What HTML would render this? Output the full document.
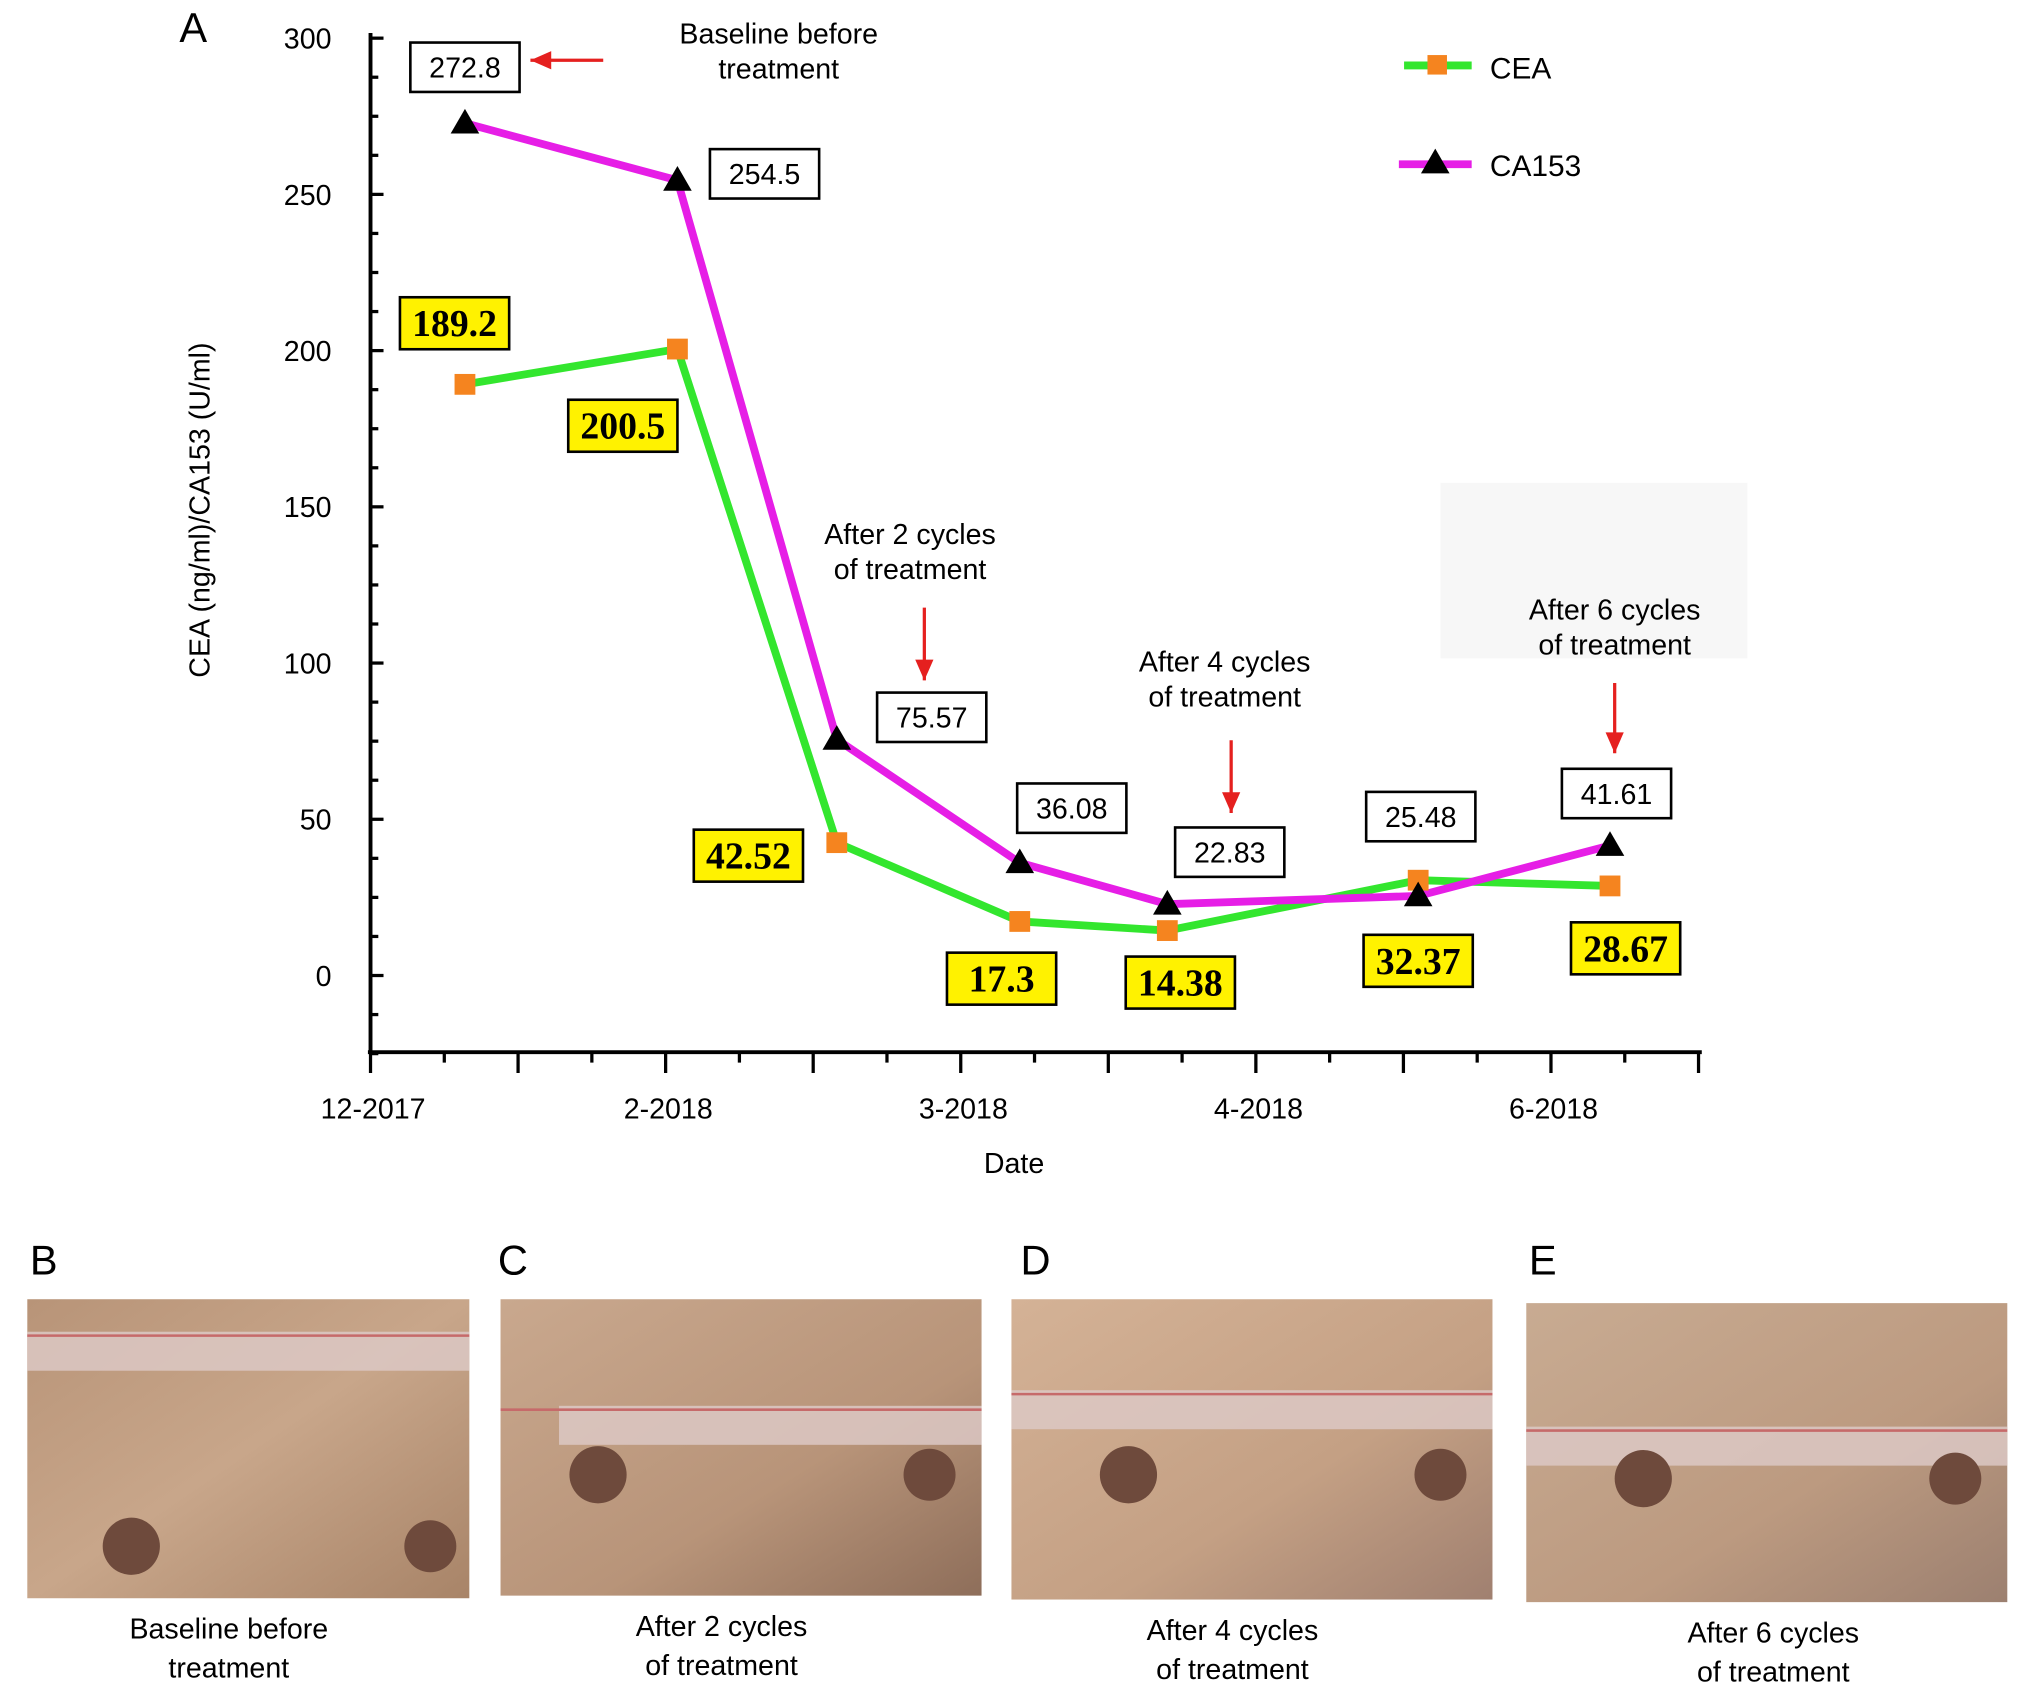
<!DOCTYPE html>
<html><head><meta charset="utf-8"><style>
html,body{margin:0;padding:0;background:#fff}
svg{display:block}
text{font-family:"Liberation Sans",sans-serif}
</style></head><body>
<svg id="chart" width="2032" height="1691" viewBox="0 0 1563 1300" xmlns="http://www.w3.org/2000/svg">
<defs>
<linearGradient id="skin1" x1="0" y1="0" x2="1" y2="1"><stop offset="0" stop-color="#b89478"/><stop offset="0.5" stop-color="#c8a68a"/><stop offset="1" stop-color="#a88468"/></linearGradient>
<linearGradient id="skin2" x1="0" y1="0" x2="1" y2="1"><stop offset="0" stop-color="#c9a88e"/><stop offset="0.6" stop-color="#b89479"/><stop offset="1" stop-color="#8e6e5a"/></linearGradient>
<linearGradient id="skin3" x1="0" y1="0" x2="1" y2="1"><stop offset="0" stop-color="#d4b296"/><stop offset="0.6" stop-color="#c4a084"/><stop offset="1" stop-color="#a08070"/></linearGradient>
<linearGradient id="skin4" x1="0" y1="0" x2="1" y2="1"><stop offset="0" stop-color="#c8ab92"/><stop offset="0.6" stop-color="#bc9a80"/><stop offset="1" stop-color="#9c8070"/></linearGradient>
</defs>
<g id="plot" transform="translate(-2,-3)"></g>
<g id="photos" transform="translate(-1,-3)"></g>
</svg>
<script>
const NS="http://www.w3.org/2000/svg";
const categories=["12-2017","2-2018","3-2018","4-2018","6-2018"];
const yTicks=[0,50,100,150,200,250,300];
const pointTimes=[0.32,1.04,1.58,2.2,2.7,3.55,4.2];
const ceaValues=[189.2,200.5,42.52,17.3,14.38,30.5,28.67];
const ceaLabels=["189.2","200.5","42.52","17.3","14.38","32.37","28.67"];
const ca153Values=[272.8,254.5,75.57,36.08,22.83,25.48,41.61];
const ca153Labels=["272.8","254.5","75.57","36.08","22.83","25.48","41.61"];

const plot=document.getElementById('plot');
const X0=287,XW=227,Y0=753,YK=(753-32)/300;
const sx=t=>X0+t*XW, sy=v=>Y0-v*YK;
function mk(tag,attrs,parent,txt){const e=document.createElementNS(NS,tag);for(const k in attrs)e.setAttribute(k,attrs[k]);if(txt!==undefined)e.textContent=txt;(parent||plot).appendChild(e);return e;}

let ya=mk('line',{x1:X0,y1:28,x2:X0,y2:812,stroke:'#000','stroke-width':3});


let xa=mk('line',{x1:X0-2,y1:812,x2:1311,y2:812,stroke:'#000','stroke-width':3});


for(let v=-25;v<=300;v+=12.5){
  const major=(v%50===0);
  mk('line',{x1:X0,y1:sy(v),x2:X0+(major?10:6),y2:sy(v),stroke:'#000','stroke-width':2.5});
}
yTicks.forEach(v=>{
  const t=mk('text',{x:257,y:sy(v)+8,'text-anchor':'end','font-size':22},plot,String(v));
  
  
});
for(let i=0;i<=18;i++){
  const x=X0+i*XW/4;
  const h=i%2===0?16:8;
  mk('line',{x1:x,y1:812,x2:x,y2:812+h,stroke:'#000','stroke-width':2.5});
}
categories.forEach((c,i)=>{
  const t=mk('text',{x:sx(i)+2,y:863,'text-anchor':'middle','font-size':22},plot,c);
  
  
});
let xt=mk('text',{x:782,y:905,'text-anchor':'middle','font-size':22},plot,'Date');


let yt=mk('text',{x:0,y:0,'text-anchor':'middle','font-size':22,transform:'translate(163,395) rotate(-90)'},plot,'CEA (ng/ml)/CA153 (U/ml)');


let pa=mk('text',{x:140,y:35,'font-size':32},plot,'A');



const pts=(vals)=>vals.map((v,i)=>sx(pointTimes[i])+','+sy(v)).join(' ');
let l1=mk('polyline',{points:pts(ceaValues),fill:'none',stroke:'#33e62e','stroke-width':6,'stroke-linejoin':'round'});


let l2=mk('polyline',{points:pts(ca153Values),fill:'none',stroke:'#e61ee6','stroke-width':6,'stroke-linejoin':'round'});


ceaValues.forEach((v,i)=>{
  const r=mk('rect',{x:sx(pointTimes[i])-8,y:sy(v)-8,width:16,height:16,fill:'#f5841f'});
  
  
});
ca153Values.forEach((v,i)=>{
  const x=sx(pointTimes[i]),y=sy(v);
  const p=mk('polygon',{points:`${x},${y-11} ${x-11},${y+8} ${x+11},${y+8}`,fill:'#000'});
  
  
});
const caOff=[[0,-43],[67,-5],[73,-17],[40,-42],[48,-40],[2,-61],[5,-40]];
const ceOff=[[-8,-47],[-42,59],[-68,10],[-14,44],[10,40],[0,62],[12,48]];
ca153Values.forEach((v,i)=>{
  const cx=sx(pointTimes[i])+caOff[i][0],cy=sy(v)+caOff[i][1];
  const g=mk('g',{});
  
  
  mk('rect',{x:cx-42,y:cy-19,width:84,height:38,fill:'#fff',stroke:'#000','stroke-width':2},g);
  mk('text',{x:cx,y:cy+8,'text-anchor':'middle','font-size':22},g,ca153Labels[i]);
});
ceaValues.forEach((v,i)=>{
  const cx=sx(pointTimes[i])+ceOff[i][0],cy=sy(v)+ceOff[i][1];
  const g=mk('g',{});
  
  
  mk('rect',{x:cx-42,y:cy-20,width:84,height:40,fill:'#fff200',stroke:'#000','stroke-width':2},g);
  mk('text',{x:cx,y:cy+10,'text-anchor':'middle',style:'font-family:"Liberation Serif",serif;font-weight:bold;font-size:29px'},g,ceaLabels[i]);
});
function ann(lines,x,y,name){const g=mk('g',{});lines.forEach((s,k)=>mk('text',{x:x,y:y+k*27,'text-anchor':'middle','font-size':22},g,s));}
mk('rect',{x:1110,y:374,width:236,height:135,fill:'#f7f7f7'});
ann(['Baseline before','treatment'],601,36,'annotation-baseline');
ann(['After 2 cycles','of treatment'],702,421,'annotation-2-cycles');
ann(['After 4 cycles','of treatment'],944,519,'annotation-4-cycles');
ann(['After 6 cycles','of treatment'],1244,479,'annotation-6-cycles');
function arrow(x1,y1,x2,y2){mk('line',{x1,y1,x2,y2,stroke:'#e5201f','stroke-width':2.5});const dx=x2-x1,dy=y2-y1,L=Math.hypot(dx,dy),ux=dx/L,uy=dy/L;mk('polygon',{points:`${x2},${y2} ${x2-ux*16-uy*7},${y2-uy*16+ux*7} ${x2-ux*16+uy*7},${y2-uy*16-ux*7}`,fill:'#e5201f'});}
arrow(466,49,410,49);
arrow(713,470,713,526);
arrow(949,572,949,628);
arrow(1244,528,1244,582);
const lg=mk('g',{});
mk('line',{x1:1082,y1:53,x2:1134,y2:53,stroke:'#33e62e','stroke-width':6},lg);
mk('rect',{x:1100,y:45,width:15,height:15,fill:'#f5841f'},lg);
mk('text',{x:1148,y:63,'font-size':23},lg,'CEA');
mk('line',{x1:1078,y1:129,x2:1134,y2:129,stroke:'#e61ee6','stroke-width':6},lg);
mk('polygon',{points:'1106,117 1095,136 1117,136',fill:'#000'},lg);
mk('text',{x:1148,y:138,'font-size':23},lg,'CA153');

const ph=document.getElementById('photos');
const panels=[['B',22,1002,340,230,'skin1',['Baseline before','treatment'],36],['C',386,1002,370,228,'skin2',['After 2 cycles','of treatment'],386],['D',779,1002,370,231,'skin3',['After 4 cycles','of treatment'],786],['E',1175,1005,370,230,'skin4',['After 6 cycles','of treatment'],1175]];
panels.forEach(p=>{
  const [L,x,y,w,h,g,cap,lx]=p;
  const grp=mk('g',{},ph);
  
  
  mk('text',{x:L==='B'?24:(L==='C'?384:(L==='D'?786:1177)),y:983,'font-size':32},grp,L);
  mk('rect',{x,y,width:w,height:h,fill:`url(#${g})`},grp);
  const ry = L==='B'?y+25:(L==='C'?y+82:(L==='D'?y+70:y+95));
  mk('rect',{x:L==='C'?x+45:x,y:ry,width:L==='C'?w-45:w,height:30,fill:'#dcc8c4',opacity:0.85},grp);
  mk('line',{x1:x,y1:ry+3,x2:x+w,y2:ry+3,stroke:'#c66a6a','stroke-width':2},grp);
  const nx = L==='B'?x+80:(L==='C'?x+75:(L==='D'?x+90:x+90));
  const ny = L==='B'?y+190:y+135;
  mk('circle',{cx:nx,cy:ny,r:22,fill:'#6e4a3c'},grp);
  mk('circle',{cx:x+w-(L==='B'?30:40),cy:ny,r:20,fill:'#6e4a3c'},grp);
  cap.forEach((s,k)=>mk('text',{x:x+w/2-(L==='B'?15:(L==='C'?15:(L==='D'?15:-5))),y:y+h+31+k*30,'text-anchor':'middle','font-size':22},grp,s));
});
</script>
</body></html>
